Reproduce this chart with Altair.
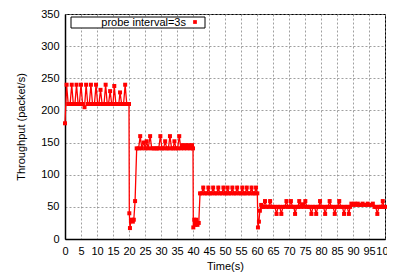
import altair as alt
import pandas as pd

# (time s, throughput packet/s)
seg1 = [(0, 180), (0.5, 240), (1.0, 210), (1.6, 210), (2.1, 240), (2.6, 210), (3.1, 210),
        (3.6, 240), (4.1, 210), (4.5, 210), (5.0, 240), (5.5, 210), (6.1, 205), (6.6, 240),
        (7.1, 210), (7.6, 210), (8.1, 240), (8.6, 210), (9.2, 210), (9.7, 240), (10.2, 210),
        (10.6, 210), (11.1, 232), (11.6, 210), (12.2, 210), (12.7, 240), (13.2, 210),
        (13.6, 210), (14.1, 230), (14.6, 210), (15.0, 210), (15.4, 238), (15.9, 210),
        (16.4, 210), (16.8, 210), (17.2, 228), (17.7, 210), (18.3, 210), (18.8, 240),
        (19.3, 210), (19.8, 210), (20.0, 210)]
drop1 = [(20.1, 40), (20.3, 17), (20.6, 28), (20.9, 30), (21.2, 27), (21.5, 30), (21.9, 59)]
seg2 = [(22.4, 141), (23.0, 141), (23.5, 160), (24.0, 141), (24.6, 150), (25.1, 141),
        (25.5, 152), (26.0, 141), (26.6, 160), (27.1, 141), (27.7, 141), (28.3, 141),
        (28.8, 141), (29.3, 141), (29.8, 160), (30.3, 141), (30.8, 141), (31.3, 152),
        (31.8, 141), (32.3, 141), (32.8, 160), (33.3, 141), (33.8, 141), (34.2, 152),
        (34.7, 141), (35.2, 141), (35.7, 160), (36.2, 141), (36.7, 146), (37.2, 141),
        (37.7, 146), (38.2, 141), (38.7, 146), (39.2, 141), (39.7, 146), (40.0, 141)]
drop2 = [(40.1, 18), (40.4, 30), (40.7, 22), (41.0, 30), (41.4, 22), (41.8, 25)]
seg3 = [(42.2, 71), (42.7, 71), (43.2, 80), (43.7, 71), (44.3, 71), (44.8, 80), (45.3, 71),
        (45.8, 71), (46.3, 80), (46.8, 71), (47.4, 71), (47.9, 80), (48.4, 71), (49.0, 71),
        (49.5, 80), (50.0, 71), (50.4, 71), (50.8, 80), (51.3, 71), (51.8, 71), (52.3, 80),
        (52.8, 71), (53.3, 71), (53.8, 80), (54.3, 71), (54.9, 71), (55.4, 80), (55.9, 71),
        (56.3, 71), (56.8, 80), (57.3, 71), (57.8, 71), (58.3, 80), (58.8, 71), (59.2, 71),
        (59.7, 80), (60.1, 71)]
drop3 = [(60.3, 18), (60.6, 27), (60.9, 44), (61.3, 53), (61.8, 50)]
seg4 = [(62.0, 50), (62.5, 59), (63.0, 50), (63.6, 50), (64.1, 59), (64.6, 50), (65.1, 50),
        (65.6, 50), (66.1, 39), (66.6, 50), (67.1, 50), (67.6, 39), (68.1, 50), (68.7, 50),
        (69.2, 59), (69.7, 50), (70.1, 50), (70.6, 59), (71.1, 50), (71.5, 50), (71.9, 39),
        (72.4, 50), (72.8, 50), (73.2, 59), (73.7, 50), (74.1, 54), (74.6, 50), (75.1, 59),
        (75.6, 50), (76.1, 50), (76.5, 50), (77.0, 39), (77.5, 50), (78.0, 50), (78.5, 39),
        (79.0, 50), (79.3, 50), (79.7, 59), (80.2, 50), (80.8, 50), (81.3, 39), (81.8, 50),
        (82.2, 50), (82.7, 59), (83.2, 50), (83.8, 50), (84.3, 39), (84.8, 50), (85.2, 50),
        (85.7, 59), (86.2, 50), (86.7, 50), (87.2, 39), (87.7, 50), (88.2, 50), (88.7, 39),
        (89.1, 50), (89.5, 55), (90.0, 53), (90.5, 55), (91.0, 53), (91.5, 55), (92.0, 53),
        (92.5, 53), (93.0, 55), (93.5, 53), (94.1, 53), (94.6, 55), (95.1, 53), (95.7, 53),
        (96.2, 55), (96.7, 50), (97.1, 50), (97.6, 39), (98.1, 50), (98.5, 50), (98.9, 50),
        (99.3, 59), (99.7, 50), (100.0, 50)]

x_ticks = list(range(0, 101, 5))
y_ticks = list(range(0, 351, 50))
legend_label = "probe interval=3s"

rows = seg1 + drop1 + seg2 + drop2 + seg3 + drop3 + seg4
df = pd.DataFrame(rows, columns=["t", "v"])

FONT = "Liberation Sans"
RED = "#ff0000"

x_enc = alt.X("t:Q", scale=alt.Scale(domain=[0, 100], nice=False),
              axis=alt.Axis(values=x_ticks, title="Time(s)", labelFlush=False,
                            labelOverlap=False))
y_enc = alt.Y("v:Q", scale=alt.Scale(domain=[0, 350], nice=False),
              axis=alt.Axis(values=y_ticks, title="Throughput (packet/s)"))

base = alt.Chart(df).encode(x=x_enc, y=y_enc)
line = base.mark_line(color=RED, strokeWidth=1.3)
pts = base.mark_point(shape="square", filled=True, color=RED, size=16, opacity=1)

one = pd.DataFrame({"k": [0]})
leg_box = alt.Chart(one).mark_rect(fill="white", stroke="black", strokeWidth=1).encode(
    x=alt.value(6), x2=alt.value(140), y=alt.value(3), y2=alt.value(14))
leg_text = alt.Chart(one).mark_text(align="right", baseline="middle", font=FONT,
                                    fontSize=11, color="black").encode(
    x=alt.value(121), y=alt.value(8.5), text=alt.value(legend_label))
leg_pt = alt.Chart(one).mark_point(shape="square", filled=True, color=RED, size=14,
                                   opacity=1).encode(x=alt.value(130), y=alt.value(8))

chart = alt.layer(line, pts, leg_box, leg_text, leg_pt).properties(
    width=320, height=225, autosize="none",
    padding={"left": 57, "top": 6, "right": 2, "bottom": 37},
).configure_view(stroke="black", strokeWidth=1).configure_axis(
    labelFont=FONT, titleFont=FONT, labelFontSize=11, titleFontSize=11,
    labelColor="black", titleColor="black", titleFontWeight="normal",
    grid=True, gridColor="#888888", gridDash=[2, 2], gridWidth=0.8,
    domainColor="black", domainWidth=1.5, ticks=False,
).configure_axisX(labelPadding=6, titlePadding=4).configure_axisY(
    labelPadding=6, titlePadding=14)

chart.save("out.html", embed_options={"renderer": "svg", "actions": False})
